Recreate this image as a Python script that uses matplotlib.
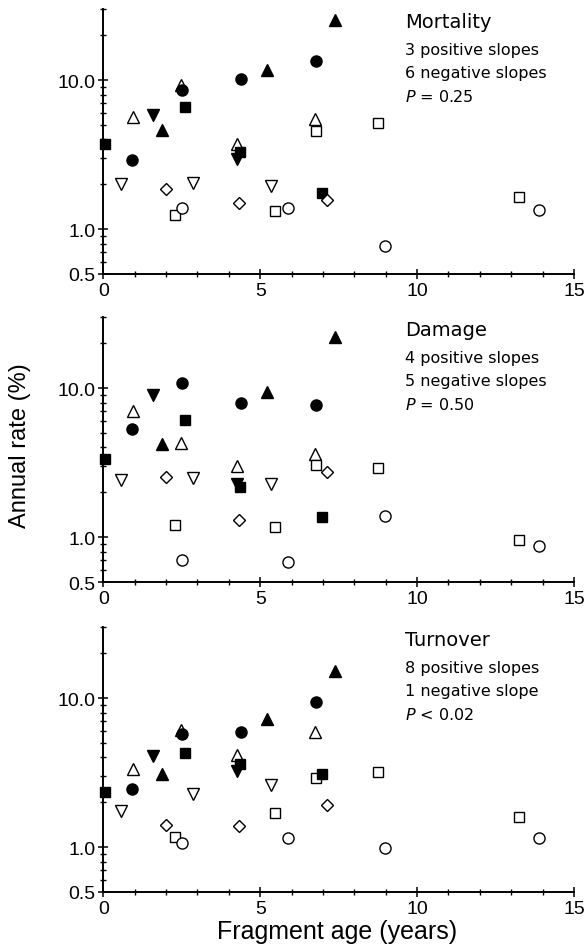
import matplotlib
matplotlib.use("Agg")
import matplotlib.pyplot as plt
from matplotlib.ticker import FixedLocator, FixedFormatter, MultipleLocator

# fragment ages (years) for each of the 9 fragments / symbols
age_fc = [0.90, 2.52, 4.39, 6.79]          # filled circle
age_oc = [2.52, 5.90, 8.97, 13.90]         # open circle
age_fs = [0.07, 2.59, 4.36, 6.97]          # filled square
age_os = [2.29, 5.48, 6.79, 8.74, 13.24]   # open square
age_ftu = [1.86, 5.23, 7.39]               # filled triangle up
age_otu = [0.96, 2.47, 4.26, 6.76]         # open triangle up
age_ftd = [1.57, 4.26]                     # filled triangle down
age_otd = [0.55, 2.87, 5.34]               # open triangle down
age_od = [2.00, 4.31, 7.13]                # open diamond

# annual mortality rate (%)
mort_fc = [2.93, 8.58, 10.1, 13.4]
mort_oc = [1.39, 1.39, 0.77, 1.35]
mort_fs = [3.74, 6.58, 3.28, 1.75]
mort_os = [1.24, 1.32, 4.59, 5.14, 1.65]
mort_ftu = [4.64, 11.7, 25.4]
mort_otu = [5.64, 9.26, 3.74, 5.47]
mort_ftd = [5.84, 2.96]
mort_otd = [2.00, 2.05, 1.96]
mort_od = [1.87, 1.49, 1.56]

# annual damage rate (%)
dam_fc = [5.33, 10.8, 7.94, 7.66]
dam_oc = [0.70, 0.68, 1.39, 0.87]
dam_fs = [3.33, 6.09, 2.18, 1.36]
dam_os = [1.21, 1.17, 3.05, 2.90, 0.96]
dam_ftu = [4.19, 9.4, 22.1]
dam_otu = [6.99, 4.30, 3.00, 3.63]
dam_ftd = [9.03, 2.29]
dam_otd = [2.41, 2.49, 2.29]
dam_od = [2.55, 1.31, 2.74]

# annual turnover rate (%)
turn_fc = [2.47, 5.70, 5.90, 9.40]
turn_oc = [1.07, 1.15, 0.99, 1.15]
turn_fs = [2.35, 4.25, 3.59, 3.08]
turn_os = [1.17, 1.69, 2.90, 3.21, 1.60]
turn_ftu = [3.11, 7.28, 15.2]
turn_otu = [3.33, 6.15, 4.15, 5.93]
turn_ftd = [4.08, 3.25]
turn_otd = [1.74, 2.29, 2.60]
turn_od = [1.41, 1.39, 1.91]

panel_titles = ["Mortality", "Damage", "Turnover"]
panel_notes = [
    ["3 positive slopes", "6 negative slopes", "$P$ = 0.25"],
    ["4 positive slopes", "5 negative slopes", "$P$ = 0.50"],
    ["8 positive slopes", "1 negative slope", "$P$ < 0.02"],
]

panels = [
    [mort_otu, mort_ftd, mort_os, mort_fs, mort_od, mort_fc, mort_oc, mort_ftu, mort_otd],
    [dam_otu, dam_ftd, dam_os, dam_fs, dam_od, dam_fc, dam_oc, dam_ftu, dam_otd],
    [turn_otu, turn_ftd, turn_os, turn_fs, turn_od, turn_fc, turn_oc, turn_ftu, turn_otd],
]
ages = [age_otu, age_ftd, age_os, age_fs, age_od, age_fc, age_oc, age_ftu, age_otd]
# (marker, filled, size)
styles = [("^", False, 8), ("v", True, 8), ("s", False, 7.5), ("s", True, 7.5),
          ("D", False, 6), ("o", True, 8), ("o", False, 8), ("^", True, 8),
          ("v", False, 8)]

fig = plt.figure(figsize=(5.88, 9.53), dpi=100)
tick_font = "Liberation Sans"

left = 103.3 / 588
width = (574 - 103.3) / 588
h = 265 / 953
bottoms = [1 - 275 / 953, 1 - 583 / 953, 1 - 893 / 953]

for i in range(3):
    ax = fig.add_axes([left, bottoms[i], width, h])
    for xs, ys, (m, filled, ms) in zip(ages, panels[i], styles):
        ax.plot(xs, ys, linestyle="none", marker=m, markersize=ms,
                markerfacecolor="black" if filled else "white",
                markeredgecolor="black", markeredgewidth=1.0, clip_on=False)
    ax.set_yscale("log")
    ax.set_xlim(0, 15)
    ax.set_ylim(0.5, 30)
    ax.spines["top"].set_visible(False)
    ax.spines["right"].set_visible(False)
    ax.spines["left"].set_linewidth(1.4)
    ax.spines["bottom"].set_linewidth(1.4)

    ax.yaxis.set_major_locator(FixedLocator([0.5, 1.0, 10.0]))
    ax.yaxis.set_major_formatter(FixedFormatter(["0.5", "1.0", "10.0"]))
    ax.yaxis.set_minor_locator(FixedLocator([0.6, 0.7, 0.8, 0.9, 2, 3, 4, 5, 6, 7, 8, 9, 20, 30]))
    ax.yaxis.set_minor_formatter(FixedFormatter([""] * 14))
    ax.xaxis.set_major_locator(MultipleLocator(5))
    ax.xaxis.set_minor_locator(MultipleLocator(1))

    ax.tick_params(which="major", direction="inout", length=7, width=1.1,
                   labelsize=14, pad=2)
    ax.tick_params(which="minor", direction="inout", length=4.5, width=1.0)
    for lab in ax.get_xticklabels() + ax.get_yticklabels():
        lab.set_fontfamily(tick_font)

    ax.text(0.641, 0.952, panel_titles[i], transform=ax.transAxes,
            fontsize=14, va="center", ha="left")
    for j, note in enumerate(panel_notes[i]):
        ax.text(0.641, 0.848 - j * 0.088, note, transform=ax.transAxes,
                fontsize=11.5, va="center", ha="left")

fig.text(0.034, 1 - 446 / 953, "Annual rate (%)", rotation=90,
         ha="center", va="center", fontsize=17, fontfamily=tick_font)
fig.text(0.573, 1 - 932 / 953, "Fragment age (years)",
         ha="center", va="center", fontsize=18, fontfamily=tick_font)

fig.savefig("out.png", dpi=100)
